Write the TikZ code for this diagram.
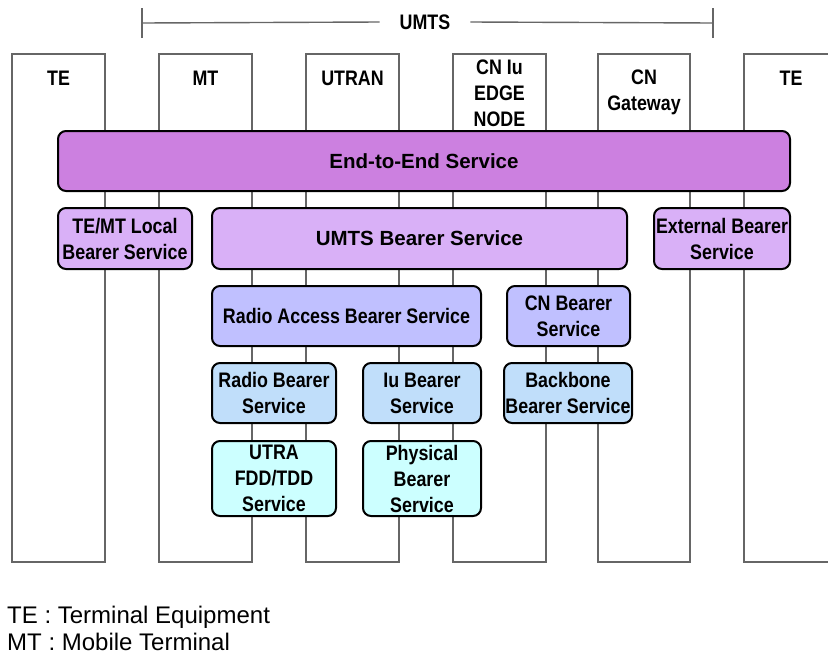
\documentclass[tikz,border=0pt]{standalone}
\usepackage{fontspec}
\setmainfont{Liberation Sans}
\newfontfamily\narrowfont{Liberation Sans}[FakeStretch=0.85]
\definecolor{colgray}{RGB}{102,102,102}
\definecolor{endend}{RGB}{204,128,224}
\definecolor{umtsbs}{RGB}{217,176,247}
\definecolor{rabs}{RGB}{192,192,255}
\definecolor{radiobs}{RGB}{192,222,250}
\definecolor{physbs}{RGB}{204,255,255}
\begin{document}
\begin{tikzpicture}[x=1pt,y=-1pt,
    col/.style={draw=colgray,line width=1.4pt},
    hdr/.style={font=\narrowfont\bfseries\fontsize{21}{26}\selectfont,align=center,inner sep=0pt},
    box/.style={draw,line width=2pt,rounded corners=8pt,inner sep=0pt,align=center,
      font=\narrowfont\bfseries\fontsize{21}{26}\selectfont},
    widebox/.style={box,font=\bfseries\fontsize{20.5}{26}\selectfont}]
  \useasboundingbox (0,0) rectangle (828,654);
  % columns
  \draw[col] (12,54) rectangle (105,562);
  \draw[col] (159,54) rectangle (252,562);
  \draw[col] (306,54) rectangle (399,562);
  \draw[col] (453,54) rectangle (546,562);
  \draw[col] (598,54) rectangle (690,562);
  \draw[col] (840,54) -- (744,54) -- (744,562) -- (840,562);
  \node[hdr] (te1) at (58.5,78) {TE};
  \node[hdr] (mt) at (205.5,78) {MT};
  \node[hdr] (utran) at (352.5,78) {UTRAN};
  \node[hdr] (cniu) at (499.5,93) {CN Iu\\EDGE\\NODE};
  \node[hdr] (cngw) at (644,92) {CN\\Gateway};
  \node[hdr] (te2) at (791,78) {TE};
  % UMTS span
  \coordinate (ul) at (142,23);
  \coordinate (ur) at (713,23);
  \node[hdr,inner xsep=20pt] (umts) at (425,22) {UMTS};
  \begin{scope}[colgray,line width=1.4pt]
    \draw ([yshift=-15]ul) -- ([yshift=15]ul);
    \draw ([yshift=-15]ur) -- ([yshift=15]ur);
    \draw (ul) -- (umts.west);
    \draw (umts.east) -- (ur);
  \end{scope}
  % bearer services
  \node[widebox,fill=endend,minimum width=732,minimum height=60] (e2e) at (424,161) {End-to-End Service};
  \node[box,fill=umtsbs,minimum width=134,minimum height=61] (local) at (125,238.5) {TE/MT Local\\Bearer Service};
  \node[widebox,fill=umtsbs,minimum width=415,minimum height=61] (umtsb) at (419.5,238.5) {UMTS Bearer Service};
  \node[box,fill=umtsbs,minimum width=136,minimum height=61] (ext) at (722,238.5) {External Bearer\\Service};
  \node[box,fill=rabs,minimum width=269,minimum height=60] (rab) at (346.5,316) {Radio Access Bearer Service};
  \node[box,fill=rabs,minimum width=123,minimum height=60] (cnb) at (568.5,316) {CN Bearer\\Service};
  \node[box,fill=radiobs,minimum width=124,minimum height=60] (rb) at (274,393) {Radio Bearer\\Service};
  \node[box,fill=radiobs,minimum width=118,minimum height=60] (iub) at (422,393) {Iu Bearer\\Service};
  \node[box,fill=radiobs,minimum width=128,minimum height=60] (bb) at (568,393) {Backbone\\Bearer Service};
  \node[box,fill=physbs,minimum width=124,minimum height=75] (utra) at (274,478.5) {UTRA\\FDD/TDD\\Service};
  \node[box,fill=physbs,minimum width=118,minimum height=75] (phys) at (422,478.5) {Physical\\Bearer\\Service};
  % legend
  \node[anchor=base west,inner sep=0pt,font=\fontsize{24}{27}\selectfont] (lte) at (7,623) {TE : Terminal Equipment};
  \node[anchor=base west,inner sep=0pt,font=\fontsize{24}{27}\selectfont] (lmt) at (7,650) {MT : Mobile Terminal};
\end{tikzpicture}
\end{document}
